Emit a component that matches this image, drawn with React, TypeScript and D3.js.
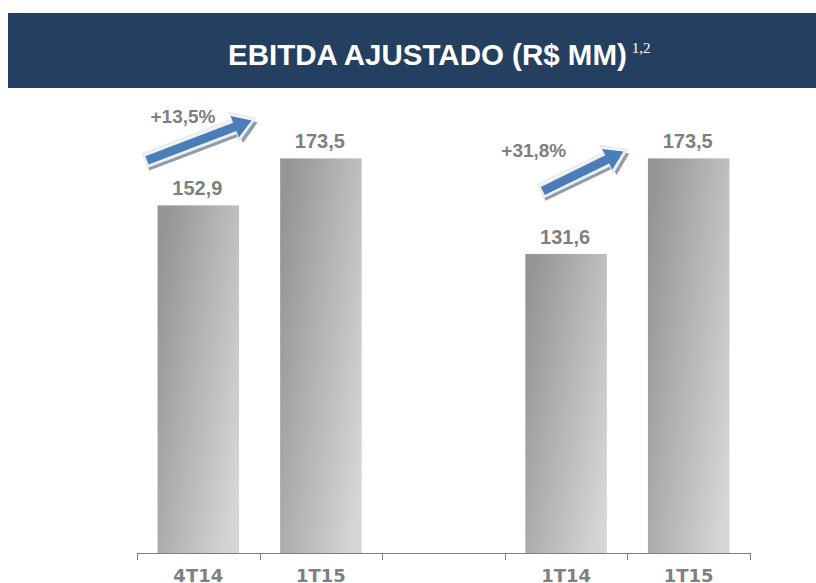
import React from "react";
import * as d3 from "d3";

const categories = ["4T14", "1T15", "", "1T14", "1T15"];
const values: (number | null)[] = [152.9, 173.5, null, 131.6, 173.5];
const growthLabels = ["+13,5%", "+31,8%"];
const title = "EBITDA AJUSTADO (R$ MM)";
const titleSup = "1,2";

const W = 816;
const H = 583;
const x = d3.scaleBand<number>().domain(d3.range(categories.length)).range([137, 750]).padding(0);
const y = d3.scaleLinear().domain([0, 200]).range([554, 98]);
const barW = x.bandwidth() * 0.665;
const fmt = (v: number) => d3.format(".1f")(v).replace(".", ",");

function arrowPath(x0: number, y0: number, x1: number, y1: number, sw: number, hw: number, hl: number) {
  const dx = x1 - x0, dy = y1 - y0;
  const L = Math.hypot(dx, dy);
  const ux = dx / L, uy = dy / L;
  const px = -uy, py = ux;
  const pts: [number, number][] = [
    [0, sw / 2], [L - hl, sw / 2], [L - hl, hw / 2], [L, 0],
    [L - hl, -hw / 2], [L - hl, -sw / 2], [0, -sw / 2],
  ];
  return "M" + pts.map(([a, b]) => `${x0 + ux * a + px * b},${y0 + uy * a + py * b}`).join("L") + "Z";
}

export default function App() {
  const arrows = [
    { x0: x(0)! + 8, y0: y(values[0]!) - 45, x1: x(1)! - 4, y1: y(values[1]!) - 40, lx: x(0)! + 46, ly: 123 },
    { x0: x(3)! + 36, y0: y(values[3]!) - 63, x1: x(4)! + 0, y1: y(values[4]!) - 9, lx: x(3)! + 29, ly: 157 },
  ];
  const ticks = d3.range(categories.length + 1).map((i) => 137 + i * x.step());
  return (
    <svg width={W} height={H} style={{ position: "absolute", left: 0, top: 0 }}>
      <defs>
        <linearGradient id="barGrad" x1="0" y1="0.2" x2="1" y2="0.8">
          <stop offset="0" stopColor="#959595" />
          <stop offset="1" stopColor="#d6d6d6" />
        </linearGradient>
      </defs>
      <rect x={8} y={13} width={808} height={75} fill="#253F61" />
      <text x={228} y={65} fontFamily="Liberation Sans, Arial, sans-serif" fontWeight="bold" fontSize={29.5} fill="#ffffff">
        {title}
        <tspan dx={5} dy={-12} fontFamily="Liberation Serif, Times New Roman, serif" fontWeight="normal" fontSize={15}>{titleSup}</tspan>
      </text>
      {values.map((v, i) =>
        v == null ? null : (
          <g key={i}>
            <rect x={x(i)! + (x.bandwidth() - barW) / 2} y={y(v)} width={barW} height={y(0) - y(v)} fill="url(#barGrad)" />
            <text x={x(i)! + x.bandwidth() / 2 - 1} y={y(v) - 10} textAnchor="middle" fontFamily="Liberation Sans, Arial, sans-serif" fontWeight="bold" fontSize={20} fill="#7f7f7f">
              {fmt(v)}
            </text>
          </g>
        )
      )}
      <line x1={137} x2={750} y1={553.5} y2={553.5} stroke="#7f7f7f" strokeWidth={1} />
      {ticks.map((t, i) => (
        <line key={i} x1={Math.round(t) + 0.5} x2={Math.round(t) + 0.5} y1={553} y2={560} stroke="#7f7f7f" />
      ))}
      {categories.map((c, i) => (
        <text key={i} x={x(i)! + x.bandwidth() / 2} y={582} textAnchor="middle" fontFamily="DejaVu Sans, Verdana, sans-serif" fontWeight="bold" fontSize={18} fill="#808080">
          {c}
        </text>
      ))}
      {arrows.map((a, i) => (
        <g key={i}>
          <path d={arrowPath(a.x0 + 2, a.y0 + 4, a.x1 + 2, a.y1 + 4, 13, 28, 21)} fill="#8d9bb0" />
          <path d={arrowPath(a.x0, a.y0, a.x1, a.y1, 15, 31, 23)} fill="#f2f2f2" stroke="#e6e6e6" strokeWidth={1} />
          <path d={arrowPath(a.x0 + 2, a.y0, a.x1 - 4, a.y1 + 2, 9, 23, 18)} fill="#4a7ebb" />
          <text x={a.lx} y={a.ly} textAnchor="middle" fontFamily="Liberation Sans, Arial, sans-serif" fontWeight="bold" fontSize={19} fill="#7f7f7f">
            {growthLabels[i]}
          </text>
        </g>
      ))}
    </svg>
  );
}
